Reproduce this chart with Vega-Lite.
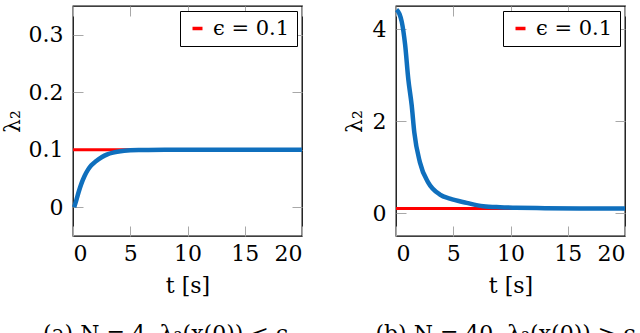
{
  "$schema": "https://vega.github.io/schema/vega-lite/v6.json",
  "padding": 0,
  "spacing": 30,
  "config": {
    "view": {"stroke": "black", "strokeWidth": 1.3},
    "font": "DejaVu Serif",
    "axis": {
      "grid": false, "domain": false,
      "labelFont": "DejaVu Serif", "labelFontSize": 22, "labelColor": "black",
      "titleFont": "DejaVu Serif", "titleFontSize": 22, "titleFontWeight": "normal", "titleColor": "black",
      "tickColor": "#a8a8a8", "tickSize": -10, "tickWidth": 1, "labelPadding": 20
    },
    "axisBottom": {"labelPadding": 17},
    "legend": {
      "orient": "top-right", "offset": 5, "strokeColor": "black", "fillColor": "white",
      "padding": 7, "symbolType": "stroke", "symbolStrokeWidth": 3.5, "symbolSize": 100,
      "labelFont": "DejaVu Serif", "labelFontSize": 21, "labelColor": "black", "labelOffset": 5, "title": null
    },
    "title": {"font": "DejaVu Serif", "fontSize": 22, "fontWeight": "normal", "color": "black", "orient": "bottom", "offset": 28}
  },
  "datasets": {
    "epsA": [{"t": 0, "v": 0.1, "s": "ϵ = 0.1"}, {"t": 20, "v": 0.1, "s": "ϵ = 0.1"}],
    "epsB": [{"t": 0, "v": 0.1, "s": "ϵ = 0.1"}, {"t": 20, "v": 0.1, "s": "ϵ = 0.1"}],
    "a": [
      {"t": 0.1, "v": 0.0}, {"t": 0.3, "v": 0.013}, {"t": 0.5, "v": 0.027}, {"t": 0.75, "v": 0.042},
      {"t": 1.0, "v": 0.054}, {"t": 1.3, "v": 0.065}, {"t": 1.6, "v": 0.073}, {"t": 2.0, "v": 0.08},
      {"t": 2.5, "v": 0.087}, {"t": 3.0, "v": 0.092}, {"t": 3.5, "v": 0.095}, {"t": 4.0, "v": 0.097},
      {"t": 5.0, "v": 0.099}, {"t": 6.0, "v": 0.0995}, {"t": 8.0, "v": 0.1}, {"t": 12.0, "v": 0.1},
      {"t": 16.0, "v": 0.1}, {"t": 20.0, "v": 0.1}
    ],
    "b": [
      {"t": 0.05, "v": 4.42}, {"t": 0.3, "v": 4.33}, {"t": 0.5, "v": 4.16}, {"t": 0.8, "v": 3.65},
      {"t": 1.07, "v": 2.92}, {"t": 1.37, "v": 2.34}, {"t": 1.6, "v": 1.75}, {"t": 2.09, "v": 1.1},
      {"t": 2.82, "v": 0.66}, {"t": 3.84, "v": 0.4}, {"t": 4.71, "v": 0.31}, {"t": 6.17, "v": 0.22},
      {"t": 7.62, "v": 0.147}, {"t": 9.08, "v": 0.125}, {"t": 10.5, "v": 0.115}, {"t": 13.0, "v": 0.105},
      {"t": 16.0, "v": 0.1}, {"t": 20.0, "v": 0.1}
    ]
  },
  "resolve": {"scale": {"color": "independent"}, "legend": {"color": "independent"}},
  "hconcat": [
    {
      "width": 229, "height": 230,
      "title": {"text": "(a) N = 4, λ₂(x(0)) < ϵ", "dx": -22},
      "layer": [
        {
          "data": {"name": "epsA"},
          "mark": {"type": "line", "strokeWidth": 3},
          "encoding": {
            "x": {"field": "t", "type": "quantitative", "scale": {"domain": [0, 20], "nice": false, "zero": false},
                  "axis": {"orient": "bottom", "values": [0, 5, 10, 15, 20], "title": "t [s]", "titlePadding": 11}},
            "y": {"field": "v", "type": "quantitative", "scale": {"domain": [-0.05, 0.35], "nice": false, "zero": false},
                  "axis": {"orient": "left", "values": [0, 0.1, 0.2, 0.3], "format": "~g", "title": "λ₂", "titlePadding": 4}},
            "color": {"field": "s", "type": "nominal", "scale": {"range": ["#ff0000"]}}
          }
        },
        {
          "data": {"name": "a"},
          "mark": {"type": "line", "strokeWidth": 4.5, "color": "#0f6fbd", "interpolate": "monotone"},
          "encoding": {
            "x": {"field": "t", "type": "quantitative",
                  "axis": {"orient": "top", "values": [0, 5, 10, 15, 20], "labels": false, "title": null, "minExtent": 0, "maxExtent": 0}},
            "y": {"field": "v", "type": "quantitative",
                  "axis": {"orient": "right", "values": [0, 0.1, 0.2, 0.3], "labels": false, "title": null, "minExtent": 0, "maxExtent": 0}}
          }
        }
      ],
      "resolve": {"axis": {"x": "independent", "y": "independent"}}
    },
    {
      "width": 229, "height": 230,
      "title": {"text": "(b) N = 40, λ₂(x(0)) > ϵ", "dx": -5},
      "layer": [
        {
          "data": {"name": "epsB"},
          "mark": {"type": "line", "strokeWidth": 3},
          "encoding": {
            "x": {"field": "t", "type": "quantitative", "scale": {"domain": [0, 20], "nice": false, "zero": false},
                  "axis": {"orient": "bottom", "values": [0, 5, 10, 15, 20], "title": "t [s]", "titlePadding": 11}},
            "y": {"field": "v", "type": "quantitative", "scale": {"domain": [-0.5, 4.5], "nice": false, "zero": false},
                  "axis": {"orient": "left", "values": [0, 2, 4], "format": "~g", "title": "λ₂", "titlePadding": 6}},
            "color": {"field": "s", "type": "nominal", "scale": {"range": ["#ff0000"]}}
          }
        },
        {
          "data": {"name": "b"},
          "mark": {"type": "line", "strokeWidth": 4.5, "color": "#0f6fbd", "interpolate": "monotone"},
          "encoding": {
            "x": {"field": "t", "type": "quantitative",
                  "axis": {"orient": "top", "values": [0, 5, 10, 15, 20], "labels": false, "title": null, "minExtent": 0, "maxExtent": 0}},
            "y": {"field": "v", "type": "quantitative",
                  "axis": {"orient": "right", "values": [0, 2, 4], "labels": false, "title": null, "minExtent": 0, "maxExtent": 0}}
          }
        }
      ],
      "resolve": {"axis": {"x": "independent", "y": "independent"}}
    }
  ]
}
